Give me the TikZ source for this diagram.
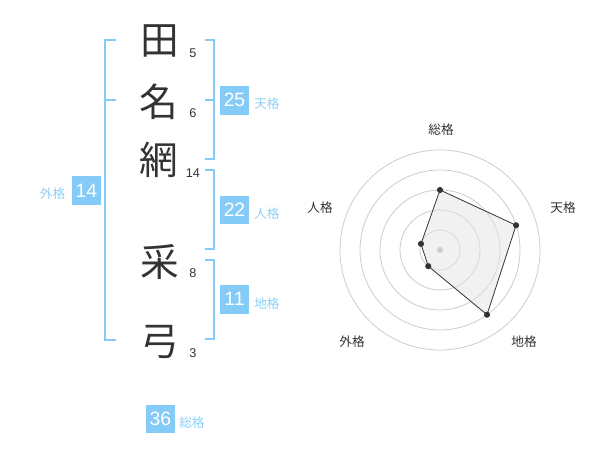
\documentclass[tikz,border=0pt]{standalone}
\usepackage{fontspec}
\setmainfont{Liberation Sans}
\newfontfamily\jp{Noto Sans CJK JP}
\definecolor{kblue}{HTML}{85CBF7}
\definecolor{klabel}{HTML}{8DCFF5}
\definecolor{ink}{HTML}{333333}
\definecolor{ring}{HTML}{CCCCCC}
\definecolor{area}{HTML}{E4E4E4}
\begin{document}
\begin{tikzpicture}[x=0.75pt,y=-0.75pt,
  kanji/.style={font=\jp\fontsize{29}{29}\selectfont, text=ink, inner sep=0},
  strokes/.style={font=\fontsize{9.5}{10}\selectfont, text=ink, inner sep=0},
  valbox/.style={fill=kblue, text=white, font=\fontsize{14.5}{14.5}\selectfont,
    minimum width=21.5pt, minimum height=21.5pt, inner sep=0},
  kaku/.style={font=\jp\fontsize{9.5}{10}\selectfont, text=klabel, inner sep=0},
  bracket/.style={draw=kblue, line width=1.5pt},
  radlabel/.style={font=\jp\fontsize{9.5}{10}\selectfont, text=ink, inner sep=0},
  ringline/.style={draw=ring, line width=0.6pt},
  dot/.style={circle, fill=ink, inner sep=0, minimum size=4.6pt}]
\useasboundingbox (0,0) rectangle (600,470);

% name characters
\node[kanji] (c1) at (160,41) {田};
\node[kanji] (c2) at (159,102) {名};
\node[kanji] (c3) at (159,160) {網};
\node[kanji] (c4) at (160,262) {采};
\node[kanji] (c5) at (160,342) {弓};
% stroke counts
\node[strokes] (s1) at (193,53) {5};
\node[strokes] (s2) at (193,113) {6};
\node[strokes] (s3) at (193,173) {14};
\node[strokes] (s4) at (193,273) {8};
\node[strokes] (s5) at (193,353) {3};

% brackets
\draw[bracket] (116,40) -- (105,40) -- (105,340) -- (116,340);
\draw[bracket] (105,100) -- (116,100);
\draw[bracket] (205,40) -- (214,40) -- (214,159) -- (205,159);
\draw[bracket] (214,100) -- (205,100);
\draw[bracket] (205,170) -- (214,170) -- (214,249) -- (205,249);
\draw[bracket] (205,260) -- (214,260) -- (214,339) -- (205,339);

% value boxes
\node[valbox] (ten) at (234.5,100.3) {25};
\node[valbox] (jin) at (234.5,210) {22};
\node[valbox] (chi) at (234.5,299.3) {11};
\node[valbox] (gai) at (86.5,190.5) {14};
\node[valbox] (sou) at (160.5,419) {36};
\node[kaku, anchor=west] (tenl) at (254,103.5) {天格};
\node[kaku, anchor=west] (jinl) at (254,213.5) {人格};
\node[kaku, anchor=west] (chil) at (254,303.5) {地格};
\node[kaku, anchor=west] (soul) at (179,422.5) {総格};
\node[kaku, anchor=east] (gail) at (65.5,194) {外格};

% radar chart
\begin{scope}[shift={(440,250)}, y=0.75pt]
  \foreach \r in {20,40,60,80,100} \draw[ringline] (0,0) circle[radius=\r];
  \coordinate (p1) at (90:60);
  \coordinate (p2) at (18:80);
  \coordinate (p3) at (-54:80);
  \coordinate (p4) at (-126:20);
  \coordinate (p5) at (162:20);
  \fill[area, opacity=0.5] (p1) -- (p2) -- (p3) -- (p4) -- (p5) -- cycle;
  \draw[ink, line width=0.6pt] (p1) -- (p2) -- (p3) -- (p4) -- (p5) -- cycle;
  \fill[ring] (0,0) circle[radius=3];
  \foreach \p in {p1,p2,p3,p4,p5} \node[dot] at (\p) {};
\end{scope}
\node[radlabel] (r1) at (441,130) {総格};
\node[radlabel] (r2) at (563,208) {天格};
\node[radlabel] (r3) at (524,342) {地格};
\node[radlabel] (r4) at (352,342) {外格};
\node[radlabel] (r5) at (320,208) {人格};
\end{tikzpicture}
\end{document}
